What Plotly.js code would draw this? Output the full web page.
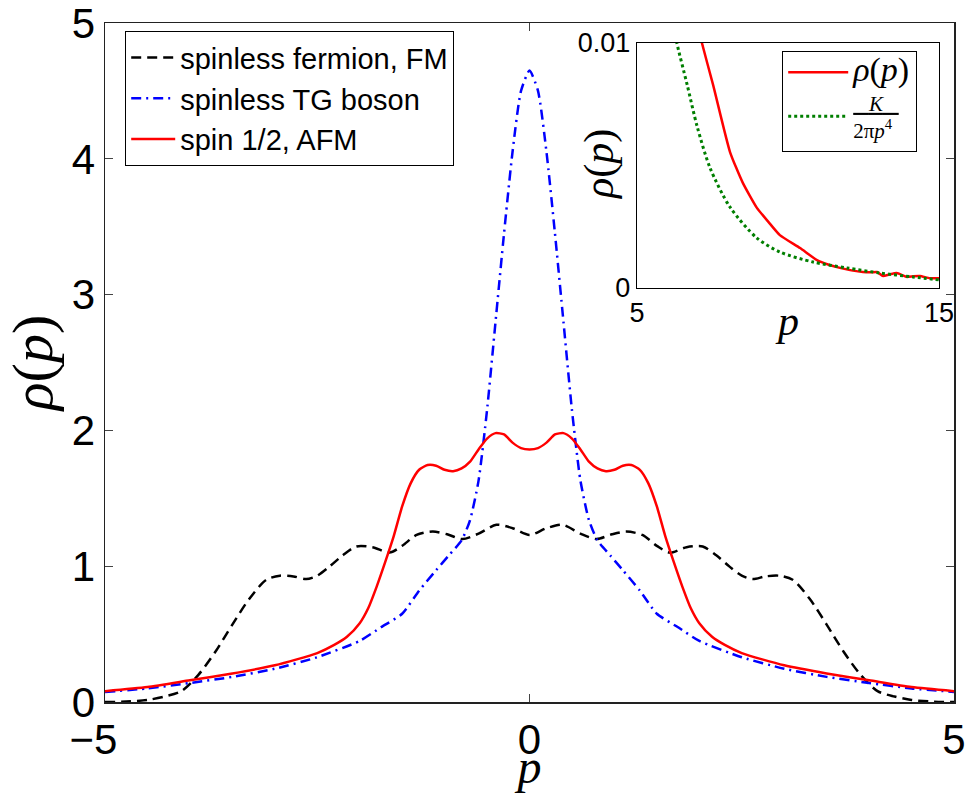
<!DOCTYPE html>
<html>
<head>
<meta charset="utf-8">
<script src="https://cdn.plot.ly/plotly-3.0.1.min.js"></script>
<style>html,body{margin:0;padding:0;background:#fff;}#chart{width:968px;height:793px;}</style>
</head>
<body>
<div id="chart"></div>
<script>
// ---- main panel data ----
const pFermion = [-5, -4.75, -4.5, -4.3, -4.1, -3.9, -3.7, -3.5, -3.3, -3.1, -2.94, -2.78, -2.63, -2.5, -2.36, -2.2, -2.04, -1.85, -1.65, -1.5, -1.33, -1.14, -0.97, -0.79, -0.6, -0.39, -0.2, 0,
  0.2, 0.39, 0.6, 0.79, 0.97, 1.14, 1.33, 1.5, 1.65, 1.85, 2.04, 2.2, 2.36, 2.5, 2.63, 2.78, 2.94, 3.1, 3.3, 3.5, 3.7, 3.9, 4.1, 4.3, 4.5, 4.75, 5];
const rhoFermion = [0.0, 0.003, 0.015, 0.04, 0.08, 0.2, 0.37, 0.57, 0.76, 0.90, 0.93, 0.925, 0.905, 0.93, 0.995, 1.08, 1.145, 1.14, 1.10, 1.15, 1.23, 1.255, 1.235, 1.20, 1.24, 1.305, 1.28, 1.23,
  1.28, 1.305, 1.24, 1.20, 1.235, 1.255, 1.23, 1.15, 1.10, 1.14, 1.145, 1.08, 0.995, 0.93, 0.905, 0.925, 0.93, 0.90, 0.76, 0.57, 0.37, 0.2, 0.08, 0.04, 0.015, 0.003, 0.0];

const pBoson = [-5, -4.5, -4, -3.5, -3, -2.5, -2, -1.75, -1.5, -1.3, -1.1, -0.95, -0.8, -0.7, -0.6, -0.5, -0.4, -0.3, -0.2, -0.1, 0,
  0.1, 0.2, 0.3, 0.4, 0.5, 0.6, 0.7, 0.8, 0.95, 1.1, 1.3, 1.5, 1.75, 2, 2.5, 3, 3.5, 4, 4.5, 5];
const rhoBoson = [0.074, 0.10, 0.14, 0.185, 0.245, 0.33, 0.45, 0.55, 0.65, 0.82, 0.97, 1.08, 1.19, 1.34, 1.63, 2.15, 2.8, 3.45, 4.05, 4.5, 4.65,
  4.5, 4.05, 3.45, 2.8, 2.15, 1.63, 1.34, 1.19, 1.08, 0.97, 0.82, 0.65, 0.55, 0.45, 0.33, 0.245, 0.185, 0.14, 0.10, 0.074];

const pSpin = [-5, -4.5, -4, -3.5, -3, -2.5, -2.3, -2.15, -2.0, -1.9, -1.8, -1.7, -1.6, -1.5, -1.4, -1.3, -1.2, -1.1, -1.0, -0.9, -0.8, -0.7, -0.6, -0.5, -0.4, -0.3, -0.2, -0.1, 0,
  0.1, 0.2, 0.3, 0.4, 0.5, 0.6, 0.7, 0.8, 0.9, 1.0, 1.1, 1.2, 1.3, 1.4, 1.5, 1.6, 1.7, 1.8, 1.9, 2.0, 2.15, 2.3, 2.5, 3, 3.5, 4, 4.5, 5];
const rhoSpin = [0.08, 0.11, 0.16, 0.21, 0.27, 0.36, 0.42, 0.48, 0.58, 0.69, 0.85, 1.03, 1.22, 1.44, 1.61, 1.71, 1.745, 1.74, 1.71, 1.70, 1.72, 1.77, 1.86, 1.94, 1.98, 1.97, 1.91, 1.87, 1.86,
  1.87, 1.91, 1.97, 1.98, 1.94, 1.86, 1.77, 1.72, 1.70, 1.71, 1.74, 1.745, 1.71, 1.61, 1.44, 1.22, 1.03, 0.85, 0.69, 0.58, 0.48, 0.42, 0.36, 0.27, 0.21, 0.16, 0.11, 0.08];

const mainXTicks = [-5, 0, 5];
const mainXTickText = ['\u22125\u00a0\u00a0', '0', '5'];
const mainYTicks = [0, 1, 2, 3, 4, 5];

// ---- inset data ----
const pInsetRho = [7.0, 7.15, 7.52, 8.08, 8.5, 8.97, 9.35, 9.73, 10.4, 10.96, 11.35, 11.72, 12.1, 12.48, 12.75, 12.95, 13.15, 13.35, 13.6, 13.94, 14.15, 14.37, 14.7, 15];
const rhoInset = [0.0108, 0.0100, 0.00829, 0.00555, 0.0043, 0.00327, 0.0027, 0.00216, 0.00163, 0.00114, 0.00095, 0.00082, 0.00072, 0.00065, 0.00064, 0.00065, 0.00049, 0.00055, 0.00061, 0.00045, 0.00048, 0.00049, 0.0004, 0.0004];
const pInsetTail = [6.2, 6.32, 6.66, 6.99, 7.42, 8.08, 8.97, 9.73, 10.83, 11.95, 13.05, 14.14, 15];
const tailInset = [0.0108, 0.0100, 0.0083, 0.0066, 0.0049, 0.0033, 0.00204, 0.00147, 0.00106, 0.00082, 0.00061, 0.00045, 0.00033];
const insetXTicks = [5, 15];
const insetYTicks = [0, 0.01];
const insetYTickText = ['0', '0.01'];

const names = ['spinless fermion, FM', 'spinless TG boson', 'spin 1/2, AFM'];
const nb = '\u00a0';
const insetNames = [
  '<span style="font-size:34px"><i>ρ</i>(<i>p</i>)</span>',
  '<u>' + nb + nb + nb + '<i>K</i>' + nb + nb + nb + '</u><br>2π<i>p</i><sup>4</sup>'
];
const insetXTitle = '<i>p</i>';
const insetYTitle = '<i>ρ</i>(<i>p</i>)';

const serif = 'Liberation Serif, DejaVu Serif, serif';
const sans = 'Liberation Sans, Arial, Helvetica, sans-serif';

const traces = [
  {x: pFermion, y: rhoFermion, name: names[0], mode: 'lines', xaxis: 'x', yaxis: 'y',
   line: {color: '#000000', width: 2.5, dash: '10px,6px', shape: 'spline', smoothing: 0.8}},
  {x: pBoson, y: rhoBoson, name: names[1], mode: 'lines', xaxis: 'x', yaxis: 'y',
   line: {color: '#0000ff', width: 2.5, dash: '10px,5px,2px,5px', shape: 'spline', smoothing: 0.6}},
  {x: pSpin, y: rhoSpin, name: names[2], mode: 'lines', xaxis: 'x', yaxis: 'y',
   line: {color: '#ff0000', width: 2.5, shape: 'spline', smoothing: 0.6}},
  {x: pInsetRho, y: rhoInset, name: insetNames[0], mode: 'lines', xaxis: 'x2', yaxis: 'y2', legend: 'legend2',
   line: {color: '#ff0000', width: 2.5, shape: 'spline', smoothing: 0.5}},
  {x: pInsetTail, y: tailInset, name: insetNames[1], mode: 'lines', xaxis: 'x2', yaxis: 'y2', legend: 'legend2',
   line: {color: '#007f00', width: 3, dash: '3px,3px', shape: 'spline', smoothing: 0.8}}
];

const L = 105, R = 954, T = 23, B = 702, W = 968, H = 793;
const px = v => (v - L) / (R - L);
const py = v => (B - v) / (B - T);

const layout = {
  width: W, height: H,
  margin: {l: L, r: W - R, t: T, b: H - B, pad: 0},
  paper_bgcolor: '#ffffff', plot_bgcolor: '#ffffff',
  showlegend: true,
  xaxis: {
    domain: [0, 1], range: [-5, 5], tickvals: mainXTicks, ticktext: mainXTickText,
    ticks: 'inside', ticklen: 8, tickwidth: 1, tickcolor: '#444',
    showline: true, linecolor: '#222', linewidth: 1.5, mirror: 'ticks',
    showgrid: false, zeroline: false, ticklabeloverflow: 'allow',
    tickfont: {family: sans, size: 42, color: '#000'},
    title: {text: '<i>p</i>', font: {family: serif, size: 48, color: '#000'}, standoff: 9}
  },
  yaxis: {
    domain: [0, 1], range: [0, 5], tickvals: mainYTicks,
    ticks: 'inside', ticklen: 8, tickwidth: 1, tickcolor: '#444',
    showline: true, linecolor: '#222', linewidth: 1.5, mirror: 'ticks',
    showgrid: false, zeroline: false, ticklabeloverflow: 'allow',
    tickfont: {family: sans, size: 42, color: '#000'},
    title: {text: '<i>ρ</i>(<i>p</i>)', font: {family: serif, size: 58, color: '#000'}, standoff: 2}
  },
  xaxis2: {
    domain: [px(637), px(939)], anchor: 'y2', range: [5, 15], tickvals: insetXTicks,
    ticks: '', showline: true, linecolor: '#000', linewidth: 1.2, mirror: true,
    showgrid: false, zeroline: false, ticklabeloverflow: 'allow',
    tickfont: {family: sans, size: 27, color: '#000'}
  },
  yaxis2: {
    domain: [py(288), py(43)], anchor: 'x2', range: [0, 0.01], tickvals: insetYTicks, ticktext: insetYTickText,
    ticks: '', showline: true, linecolor: '#000', linewidth: 1.2, mirror: true,
    showgrid: false, zeroline: false, ticklabeloverflow: 'allow',
    tickfont: {family: sans, size: 27, color: '#000'}
  },
  annotations: [
    {text: insetXTitle, xref: 'paper', yref: 'paper', x: px(787), y: py(321), xanchor: 'center', yanchor: 'middle',
     showarrow: false, font: {family: serif, size: 42, color: '#000'}},
    {text: insetYTitle, xref: 'paper', yref: 'paper', x: px(599), y: py(165), xanchor: 'center', yanchor: 'middle',
     textangle: -90, showarrow: false, font: {family: serif, size: 42, color: '#000'}}
  ],
  legend: {
    x: px(125), y: py(31), xanchor: 'left', yanchor: 'top',
    bgcolor: '#ffffff', bordercolor: '#000', borderwidth: 1.2,
    font: {family: sans, size: 29, color: '#000'},
    itemwidth: 44, tracegroupgap: 0
  },
  legend2: {
    x: px(782), y: py(51), xanchor: 'left', yanchor: 'top',
    bgcolor: '#ffffff', bordercolor: '#000', borderwidth: 1.2,
    font: {family: serif, size: 21, color: '#000'},
    itemwidth: 60, tracegroupgap: 0
  }
};

Plotly.newPlot('chart', traces, layout, {displayModeBar: false, staticPlot: true});
</script>
</body>
</html>
